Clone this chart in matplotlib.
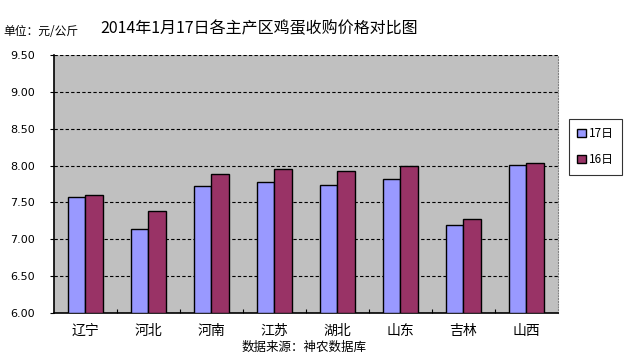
import matplotlib
matplotlib.use("Agg")
import matplotlib.pyplot as plt
import numpy as np
from matplotlib.ticker import FixedLocator

plt.rcParams['font.family'] = ['Noto Sans CJK SC', 'DejaVu Sans']

categories = ["辽宁", "河北", "河南", "江苏", "湖北", "山东", "吉林", "山西"]
day17 = [7.57, 7.14, 7.72, 7.78, 7.73, 7.82, 7.20, 8.01]
day16 = [7.60, 7.39, 7.88, 7.95, 7.93, 7.99, 7.27, 8.03]
series_labels = ["17日", "16日"]
yticks = [6.00, 6.50, 7.00, 7.50, 8.00, 8.50, 9.00, 9.50]

fig = plt.figure(figsize=(6.36, 3.58), dpi=100)
ax = fig.add_axes([0.0849, 0.1257, 0.8769 - 0.0849, 0.8464 - 0.1257])
ax.set_facecolor("#C0C0C0")

x = np.arange(len(categories))
w = 0.28
ax.bar(x - w / 2, np.array(day17) - 6.0, w, bottom=6.0, color="#9999FF",
       edgecolor="black", linewidth=1.0, label=series_labels[0], zorder=3)
ax.bar(x + w / 2, np.array(day16) - 6.0, w, bottom=6.0, color="#993366",
       edgecolor="black", linewidth=1.0, label=series_labels[1], zorder=3)

ax.set_xlim(-0.5, len(categories) - 0.5)
ax.set_ylim(6.0, 9.5)
ax.set_yticks(yticks)
ax.set_yticklabels([f"{v:.2f}" for v in yticks], fontsize=8, family="DejaVu Sans")
ax.yaxis.grid(True, linestyle=(0, (3, 2)), color="black", linewidth=0.8, zorder=1)
ax.tick_params(axis="y", direction="out", length=3, width=0.8, pad=11)

ax.set_xticks(x)
ax.set_xticklabels(categories, fontsize=10)
ax.tick_params(axis="x", which="major", length=0, pad=8)
ax.xaxis.set_minor_locator(FixedLocator(np.arange(0.5, len(categories) - 0.5, 1.0)))
ax.tick_params(axis="x", which="minor", direction="in", length=3, width=0.8)

ax.spines["top"].set_visible(False)
ax.spines["right"].set_linestyle((0, (1, 1.5)))
ax.spines["right"].set_color("#808080")
ax.spines["right"].set_linewidth(0.8)
ax.spines["left"].set_linewidth(1.2)
ax.spines["bottom"].set_linewidth(1.2)

leg = ax.legend(loc="upper left", bbox_to_anchor=(0.8947, 0.6675), bbox_transform=fig.transFigure,
                frameon=True, fancybox=False, edgecolor="black", fontsize=8.5,
                handlelength=0.7, handleheight=0.7, handletextpad=0.3,
                labelspacing=1.1, borderpad=0.7, borderaxespad=0)
leg.get_frame().set_linewidth(0.8)

fig.text(0.407, 0.919, "2014年1月17日各主产区鸡蛋收购价格对比图", ha="center", va="center", fontsize=11.5)
fig.text(0.005, 0.911, "单位：元/公斤", ha="left", va="center", fontsize=8.5)
fig.text(0.478, 0.030, "数据来源：神农数据库", ha="center", va="center", fontsize=9)

fig.savefig("out.png", dpi=100)
